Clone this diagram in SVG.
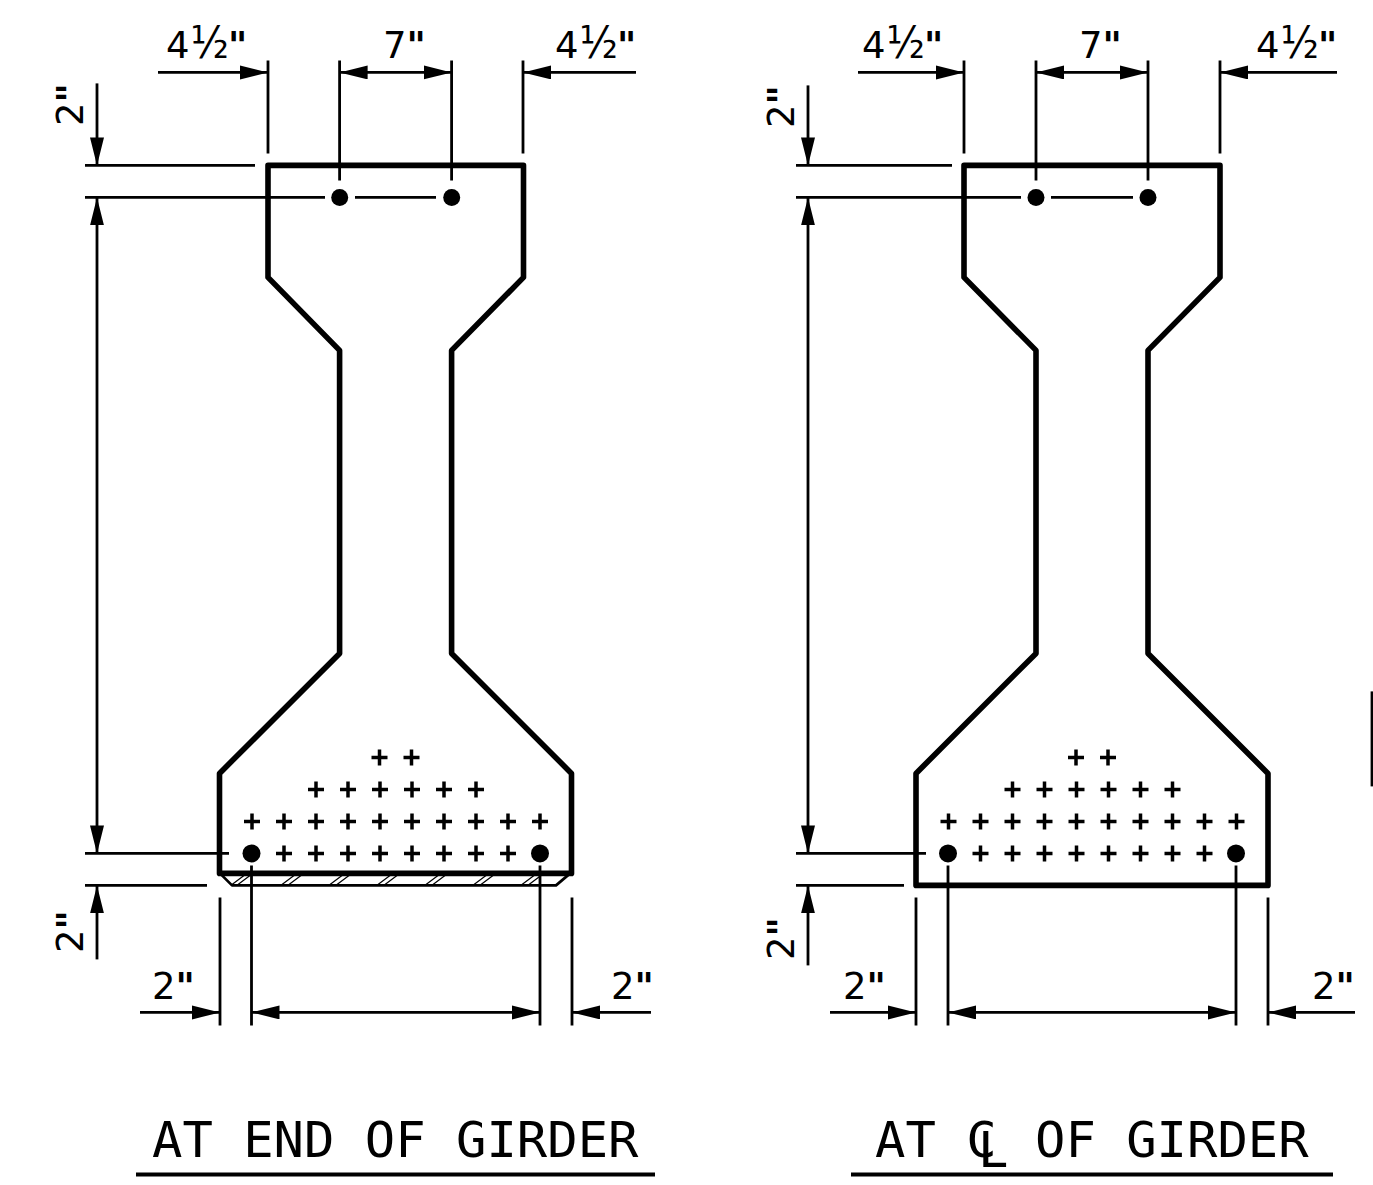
<svg xmlns="http://www.w3.org/2000/svg" width="1373" height="1185" viewBox="0 0 1373 1185">
<style>
.bg{fill:#fff}
.section{fill:none;stroke:#000;stroke-width:5.6;stroke-linejoin:round;stroke-linecap:round}
.strip{fill:none;stroke:#000;stroke-width:2.7;stroke-linejoin:round}
.hatch{fill:none;stroke:#000;stroke-width:1.2}
.dim{fill:none;stroke:#000;stroke-width:2.8}
.head-s{marker-start:url(#a)}
.head-e{marker-end:url(#a)}
.under{stroke:#000;stroke-width:4}
.plus{fill:none;stroke:#000;stroke-width:3.5}
.t{font-family:"DejaVu Sans",sans-serif;font-size:37px;fill:#000}
.f{font-family:"DejaVu Sans Condensed","DejaVu Sans",sans-serif;font-size:44px}
.q{font-weight:700}
.title{font-family:"DejaVu Sans Mono",monospace;font-size:50.5px;fill:#000}
</style>
<defs>
<marker id="a" markerUnits="userSpaceOnUse" markerWidth="30" markerHeight="16" refX="28" refY="7" orient="auto-start-reverse" viewBox="0 0 30 16"><path d="M0 0L28 7L0 14Z" fill="#000"/></marker>
<path id="p" class="plus" d="M-8 0H8M0-8V8"/>
<g id="rows-a">
<use href="#p" x="379.500" y="757"/><use href="#p" x="411.500" y="757"/>
<use href="#p" x="316" y="789"/><use href="#p" x="348" y="789"/><use href="#p" x="380" y="789"/><use href="#p" x="412" y="789"/><use href="#p" x="444" y="789"/><use href="#p" x="476" y="789"/>
<use href="#p" x="252" y="821"/><use href="#p" x="284" y="821"/><use href="#p" x="316" y="821"/><use href="#p" x="348" y="821"/><use href="#p" x="380" y="821"/><use href="#p" x="412" y="821"/><use href="#p" x="444" y="821"/><use href="#p" x="476" y="821"/><use href="#p" x="508" y="821"/><use href="#p" x="540" y="821"/>
<use href="#p" x="284" y="853"/><use href="#p" x="316" y="853"/><use href="#p" x="348" y="853"/><use href="#p" x="380" y="853"/><use href="#p" x="412" y="853"/><use href="#p" x="444" y="853"/><use href="#p" x="476" y="853"/><use href="#p" x="508" y="853"/>
</g>
</defs>
<rect class="bg" width="1373" height="1185"/>
<g transform="translate(0 0.4)">
<g id="girder-end">
<path class="section" d="M268 165H523.500V277L451.600 350V653L571.500 773V873H219.500V773L339.600 653V350L268 277Z"/>
<path class="strip" d="M221 874L232 885H556L569 874"/>
<path class="hatch" d="M232 884L244 875M238 884L250 875M282 884L294 875M289 884L301 875M330 884L342 875M337 884L349 875M378 884L390 875M385 884L397 875M426 884L438 875M433 884L445 875M474 884L486 875M481 884L493 875M522 884L534 875M529 884L541 875"/>
<use href="#rows-a"/>
<circle cx="339.700" cy="197" r="8.500"/><circle cx="451.700" cy="197" r="8.500"/>
<circle cx="251.500" cy="853" r="9"/><circle cx="540" cy="853" r="9"/>
</g>
<g id="girder-cl">
<path class="section" d="M964 165H1220V277L1148 350V653L1268 773V885H916V773L1036 653V350L964 277Z"/>
<use href="#rows-a" x="696.500"/>
<circle cx="1036" cy="197" r="8.500"/><circle cx="1148" cy="197" r="8.500"/>
<circle cx="948" cy="853" r="9"/><circle cx="1236" cy="853" r="9"/>
</g>
<g id="connectors">
<path class="dim" d="M268 60V153M339.600 60V180M451.600 60V180M523 60V153"/>
<path class="dim head-e" d="M158 72H268"/>
<path class="dim head-s head-e" d="M339.600 72H451.600"/>
<path class="dim head-e" d="M636 72H523"/>
<path class="dim" d="M85 165H255M85 197H325M355 197H436M85 853H229M85 885H207"/>
<path class="dim head-e" d="M97 83V165"/>
<path class="dim head-s head-e" d="M97 197V853"/>
<path class="dim head-e" d="M97 959V885"/>
<path class="dim" d="M220 897V1025M251.500 865V1025M540 865V1025M572 897V1025"/>
<path class="dim head-e" d="M140 1012H220"/>
<path class="dim head-s head-e" d="M251.500 1012H540"/>
<path class="dim head-e" d="M651 1012H572"/>
<path class="dim" d="M964 60V153M1036 60V180M1148 60V180M1220 60V153"/>
<path class="dim head-e" d="M858 72H964"/>
<path class="dim head-s head-e" d="M1036 72H1148"/>
<path class="dim head-e" d="M1337 72H1220"/>
<path class="dim" d="M796 165H952M796 197H1021M1051 197H1133M796 853H926M796 885H904"/>
<path class="dim head-e" d="M808 85V165"/>
<path class="dim head-s head-e" d="M808 197V853"/>
<path class="dim head-e" d="M808 965V885"/>
<path class="dim" d="M916 897V1025M948 865V1025M1236 865V1025M1268 897V1025"/>
<path class="dim head-e" d="M830 1012H916"/>
<path class="dim head-s head-e" d="M948 1012H1236"/>
<path class="dim head-e" d="M1355 1012H1268"/>
<path class="dim" d="M1372 691V786"/>
</g>
</g>
<g id="labels">
<text class="t" x="166" y="58">4<tspan class="f" dx="1">½</tspan><tspan class="q" dx="-1">"</tspan></text>
<text class="t" x="383" y="58">7<tspan class="q">"</tspan></text>
<text class="t" x="555" y="58">4<tspan class="f" dx="1">½</tspan><tspan class="q" dx="-1">"</tspan></text>
<text class="t" transform="translate(83 126) rotate(-90)">2<tspan class="q">"</tspan></text>
<text class="t" transform="translate(83 953) rotate(-90)">2<tspan class="q">"</tspan></text>
<text class="t" x="152" y="999">2<tspan class="q">"</tspan></text>
<text class="t" x="611" y="999">2<tspan class="q">"</tspan></text>
<text class="t" x="862" y="58">4<tspan class="f" dx="1">½</tspan><tspan class="q" dx="-1">"</tspan></text>
<text class="t" x="1079" y="58">7<tspan class="q">"</tspan></text>
<text class="t" x="1256" y="58">4<tspan class="f" dx="1">½</tspan><tspan class="q" dx="-1">"</tspan></text>
<text class="t" transform="translate(794 128) rotate(-90)">2<tspan class="q">"</tspan></text>
<text class="t" transform="translate(794 960) rotate(-90)">2<tspan class="q">"</tspan></text>
<text class="t" x="843" y="999">2<tspan class="q">"</tspan></text>
<text class="t" x="1312" y="999">2<tspan class="q">"</tspan></text>
<text class="title" x="152" y="1156.500">AT END OF GIRDER</text>
<text class="title" x="875" y="1156.500">AT C</text>
<text class="title" x="978" y="1167">L</text>
<text class="title" x="1035" y="1156.500">OF GIRDER</text>
<path class="under" d="M136 1174.500H655M851 1174.500H1333"/>
</g>
</svg>
